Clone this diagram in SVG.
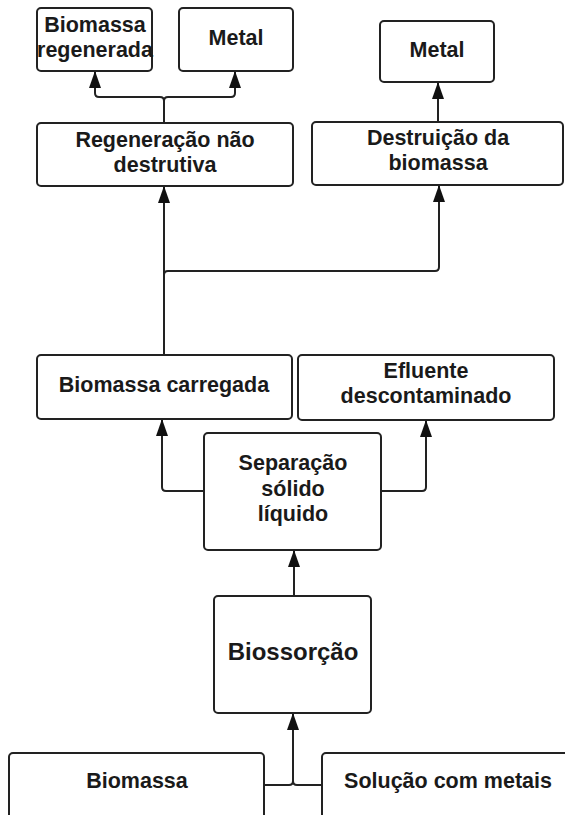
<svg xmlns="http://www.w3.org/2000/svg" width="565" height="815" viewBox="0 0 565 815">
<defs>
<marker id="ah" markerWidth="17" markerHeight="12" refX="16" refY="6" orient="auto" markerUnits="userSpaceOnUse" viewBox="0 0 17 12">
<path d="M0,0 L17,6 L0,12 Z" fill="#111"/>
</marker>
<style>
.box{fill:#fff;stroke:#222;stroke-width:2}
.t{font-family:"Liberation Sans",Arial,sans-serif;font-weight:bold;font-size:21.5px;fill:#1a1a1a;text-anchor:middle}
.big{font-size:24px}
.c{fill:none;stroke:#222;stroke-width:2}
.ca{fill:none;stroke:#222;stroke-width:2;marker-end:url(#ah)}
</style>
</defs>
<rect width="565" height="815" fill="#fff"/>
<g id="connectors">
<path class="ca" d="M164,118 V101 Q164,97 160,97 H99 Q95,97 95,93 V72"/>
<path class="ca" d="M164,118 V101 Q164,97 168,97 H231 Q235,97 235,93 V72"/>
<path class="c" d="M164,123 V118"/>
<path class="ca" d="M438,122 V83"/>
<path class="ca" d="M164,355 V187"/>
<path class="ca" d="M164,275 Q164,271 168,271 H435 Q439,271 439,267 V186"/>
<path class="ca" d="M204,491 H166 Q162,491 162,487 V420"/>
<path class="ca" d="M381,491 H422 Q426,491 426,487 V421"/>
<path class="ca" d="M294,596 V551"/>
<path class="ca" d="M264,785 H289 Q293,785 293,781 V714"/>
<path class="c" d="M322,785 H297 Q293,785 293,781"/>
</g>
<g id="biomassa-regenerada">
<rect class="box" x="37" y="8" width="115" height="63" rx="4"/>
<text class="t" x="95" y="32">Biomassa</text>
<text class="t" x="95" y="57">regenerada</text>
</g>
<g id="metal-1">
<rect class="box" x="179" y="8" width="114" height="63" rx="4"/>
<text class="t" x="236" y="45">Metal</text>
</g>
<g id="metal-2">
<rect class="box" x="380" y="21" width="114" height="61" rx="4"/>
<text class="t" x="437" y="57">Metal</text>
</g>
<g id="regeneracao">
<rect class="box" x="37" y="123" width="256" height="63" rx="4"/>
<text class="t" x="165" y="147">Regeneração não</text>
<text class="t" x="165" y="172">destrutiva</text>
</g>
<g id="destruicao">
<rect class="box" x="312" y="122" width="251" height="63" rx="4"/>
<text class="t" x="438" y="145">Destruição da</text>
<text class="t" x="438" y="170">biomassa</text>
</g>
<g id="biomassa-carregada">
<rect class="box" x="37" y="355" width="255" height="64" rx="4"/>
<text class="t" x="164" y="392">Biomassa carregada</text>
</g>
<g id="efluente">
<rect class="box" x="298" y="355" width="256" height="65" rx="4"/>
<text class="t" x="426" y="378">Efluente</text>
<text class="t" x="426" y="403">descontaminado</text>
</g>
<g id="separacao">
<rect class="box" x="204" y="433" width="177" height="117" rx="4"/>
<text class="t" x="293" y="470">Separação</text>
<text class="t" x="293" y="496">sólido</text>
<text class="t" x="293" y="521">líquido</text>
</g>
<g id="biossorcao">
<rect class="box" x="214" y="596" width="157" height="117" rx="4"/>
<text class="t big" x="293" y="660">Biossorção</text>
</g>
<g id="biomassa">
<rect class="box" x="9" y="753" width="255" height="80" rx="4"/>
<text class="t" x="137" y="788">Biomassa</text>
</g>
<g id="solucao">
<rect class="box" x="322" y="753" width="260" height="80" rx="4"/>
<text class="t" x="448" y="788">Solução com metais</text>
</g>
</svg>
